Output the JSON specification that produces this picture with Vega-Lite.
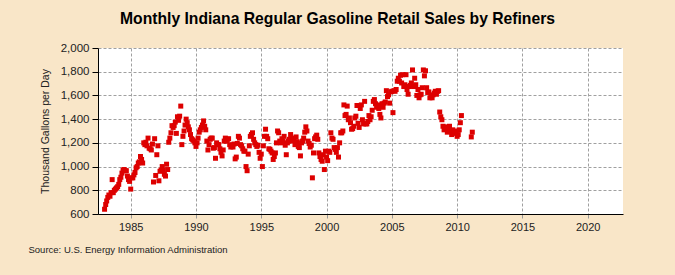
{
  "$schema": "https://vega.github.io/schema/vega-lite/v6.json",
  "width": 525,
  "height": 166,
  "autosize": {"type": "none"},
  "padding": {"left": 98, "top": 48, "right": 52, "bottom": 61},
  "background": "#F9E6C8",
  "config": {
    "view": {"stroke": null, "fill": "#FFFFFF"},
    "font": "Liberation Sans"
  },
  "title": {
    "text": "Monthly Indiana Regular Gasoline Retail Sales by Refiners",
    "fontSize": 15.7,
    "fontWeight": "bold",
    "color": "#000000",
    "anchor": "middle",
    "dx": -23,
    "offset": 14
  },
  "data": {
    "format": {"parse": {"d": "utc:'%Y-%m'"}},
    "values": [
      {"d":"1983-01","v":640},{"d":"1983-02","v":680},{"d":"1983-03","v":710},{"d":"1983-04","v":740},{"d":"1983-05","v":760},{"d":"1983-06","v":750},{"d":"1983-07","v":780},{"d":"1983-08","v":890},{"d":"1983-09","v":780},{"d":"1983-10","v":800},{"d":"1983-11","v":810},{"d":"1983-12","v":820},
      {"d":"1984-01","v":830},{"d":"1984-02","v":850},{"d":"1984-03","v":890},{"d":"1984-04","v":910},{"d":"1984-05","v":945},{"d":"1984-06","v":970},{"d":"1984-07","v":975},{"d":"1984-08","v":965},{"d":"1984-09","v":965},{"d":"1984-10","v":920},{"d":"1984-11","v":890},{"d":"1984-12","v":875},
      {"d":"1985-01","v":810},{"d":"1985-02","v":905},{"d":"1985-03","v":905},{"d":"1985-04","v":930},{"d":"1985-05","v":950},{"d":"1985-06","v":990},{"d":"1985-07","v":1000},{"d":"1985-08","v":1030},{"d":"1985-09","v":1040},{"d":"1985-10","v":1085},{"d":"1985-11","v":1060},{"d":"1985-12","v":1030},
      {"d":"1986-01","v":1200},{"d":"1986-02","v":1185},{"d":"1986-03","v":1205},{"d":"1986-04","v":1175},{"d":"1986-05","v":1240},{"d":"1986-06","v":1155},{"d":"1986-07","v":1150},{"d":"1986-08","v":1140},{"d":"1986-09","v":1190},{"d":"1986-10","v":870},{"d":"1986-11","v":1235},{"d":"1986-12","v":925},
      {"d":"1987-01","v":1100},{"d":"1987-02","v":1175},{"d":"1987-03","v":880},{"d":"1987-04","v":960},{"d":"1987-05","v":970},{"d":"1987-06","v":1000},{"d":"1987-07","v":970},{"d":"1987-08","v":935},{"d":"1987-09","v":920},{"d":"1987-10","v":1020},{"d":"1987-11","v":975},{"d":"1987-12","v":1205},
      {"d":"1988-01","v":1240},{"d":"1988-02","v":1285},{"d":"1988-03","v":1345},{"d":"1988-04","v":1330},{"d":"1988-05","v":1345},{"d":"1988-06","v":1375},{"d":"1988-07","v":1280},{"d":"1988-08","v":1420},{"d":"1988-09","v":1390},{"d":"1988-10","v":1425},{"d":"1988-11","v":1510},{"d":"1988-12","v":1185},
      {"d":"1989-01","v":1255},{"d":"1989-02","v":1300},{"d":"1989-03","v":1350},{"d":"1989-04","v":1400},{"d":"1989-05","v":1370},{"d":"1989-06","v":1335},{"d":"1989-07","v":1310},{"d":"1989-08","v":1270},{"d":"1989-09","v":1235},{"d":"1989-10","v":1225},{"d":"1989-11","v":1215},{"d":"1989-12","v":1200},
      {"d":"1990-01","v":1170},{"d":"1990-02","v":1200},{"d":"1990-03","v":1240},{"d":"1990-04","v":1290},{"d":"1990-05","v":1310},{"d":"1990-06","v":1330},{"d":"1990-07","v":1350},{"d":"1990-08","v":1385},{"d":"1990-09","v":1340},{"d":"1990-10","v":1310},{"d":"1990-11","v":1215},{"d":"1990-12","v":1140},
      {"d":"1991-01","v":1185},{"d":"1991-02","v":1230},{"d":"1991-03","v":1240},{"d":"1991-04","v":1240},{"d":"1991-05","v":1155},{"d":"1991-06","v":1160},{"d":"1991-07","v":1070},{"d":"1991-08","v":1200},{"d":"1991-09","v":1185},{"d":"1991-10","v":1185},{"d":"1991-11","v":1150},{"d":"1991-12","v":1120},
      {"d":"1992-01","v":1090},{"d":"1992-02","v":1140},{"d":"1992-03","v":1215},{"d":"1992-04","v":1240},{"d":"1992-05","v":1215},{"d":"1992-06","v":1230},{"d":"1992-07","v":1235},{"d":"1992-08","v":1185},{"d":"1992-09","v":1165},{"d":"1992-10","v":1170},{"d":"1992-11","v":1165},{"d":"1992-12","v":1190},
      {"d":"1993-01","v":1065},{"d":"1993-02","v":1080},{"d":"1993-03","v":1195},{"d":"1993-04","v":1255},{"d":"1993-05","v":1240},{"d":"1993-06","v":1185},{"d":"1993-07","v":1175},{"d":"1993-08","v":1150},{"d":"1993-09","v":1130},{"d":"1993-10","v":1130},{"d":"1993-11","v":1000},{"d":"1993-12","v":965},
      {"d":"1994-01","v":1105},{"d":"1994-02","v":1175},{"d":"1994-03","v":1255},{"d":"1994-04","v":1270},{"d":"1994-05","v":1285},{"d":"1994-06","v":1230},{"d":"1994-07","v":1200},{"d":"1994-08","v":1185},{"d":"1994-09","v":1170},{"d":"1994-10","v":1180},{"d":"1994-11","v":1120},{"d":"1994-12","v":1070},
      {"d":"1995-01","v":1105},{"d":"1995-02","v":1000},{"d":"1995-03","v":1175},{"d":"1995-04","v":1255},{"d":"1995-05","v":1315},{"d":"1995-06","v":1255},{"d":"1995-07","v":1235},{"d":"1995-08","v":1150},{"d":"1995-09","v":1145},{"d":"1995-10","v":1130},{"d":"1995-11","v":1115},{"d":"1995-12","v":1060},
      {"d":"1996-01","v":1085},{"d":"1996-02","v":1115},{"d":"1996-03","v":1200},{"d":"1996-04","v":1300},{"d":"1996-05","v":1285},{"d":"1996-06","v":1215},{"d":"1996-07","v":1200},{"d":"1996-08","v":1235},{"d":"1996-09","v":1215},{"d":"1996-10","v":1255},{"d":"1996-11","v":1180},{"d":"1996-12","v":1100},
      {"d":"1997-01","v":1200},{"d":"1997-02","v":1215},{"d":"1997-03","v":1230},{"d":"1997-04","v":1270},{"d":"1997-05","v":1240},{"d":"1997-06","v":1215},{"d":"1997-07","v":1230},{"d":"1997-08","v":1185},{"d":"1997-09","v":1250},{"d":"1997-10","v":1210},{"d":"1997-11","v":1170},{"d":"1997-12","v":1160},
      {"d":"1998-01","v":1090},{"d":"1998-02","v":1200},{"d":"1998-03","v":1215},{"d":"1998-04","v":1240},{"d":"1998-05","v":1290},{"d":"1998-06","v":1335},{"d":"1998-07","v":1300},{"d":"1998-08","v":1215},{"d":"1998-09","v":1195},{"d":"1998-10","v":1165},{"d":"1998-11","v":1180},{"d":"1998-12","v":905},
      {"d":"1999-01","v":1115},{"d":"1999-02","v":1235},{"d":"1999-03","v":1250},{"d":"1999-04","v":1265},{"d":"1999-05","v":1230},{"d":"1999-06","v":1115},{"d":"1999-07","v":1085},{"d":"1999-08","v":1060},{"d":"1999-09","v":1045},{"d":"1999-10","v":1100},{"d":"1999-11","v":975},{"d":"1999-12","v":1130},
      {"d":"2000-01","v":1080},{"d":"2000-02","v":1050},{"d":"2000-03","v":1130},{"d":"2000-04","v":1120},{"d":"2000-05","v":1285},{"d":"2000-06","v":1240},{"d":"2000-07","v":1230},{"d":"2000-08","v":1160},{"d":"2000-09","v":1145},{"d":"2000-10","v":1120},{"d":"2000-11","v":1160},{"d":"2000-12","v":1080},
      {"d":"2001-01","v":1200},{"d":"2001-02","v":1285},{"d":"2001-03","v":1285},{"d":"2001-04","v":1300},{"d":"2001-05","v":1520},{"d":"2001-06","v":1430},{"d":"2001-07","v":1440},{"d":"2001-08","v":1510},{"d":"2001-09","v":1395},{"d":"2001-10","v":1410},{"d":"2001-11","v":1370},{"d":"2001-12","v":1315},
      {"d":"2002-01","v":1320},{"d":"2002-02","v":1340},{"d":"2002-03","v":1410},{"d":"2002-04","v":1425},{"d":"2002-05","v":1515},{"d":"2002-06","v":1365},{"d":"2002-07","v":1330},{"d":"2002-08","v":1490},{"d":"2002-09","v":1520},{"d":"2002-10","v":1395},{"d":"2002-11","v":1360},{"d":"2002-12","v":1550},
      {"d":"2003-01","v":1360},{"d":"2003-02","v":1360},{"d":"2003-03","v":1380},{"d":"2003-04","v":1430},{"d":"2003-05","v":1395},{"d":"2003-06","v":1420},{"d":"2003-07","v":1475},{"d":"2003-08","v":1550},{"d":"2003-09","v":1565},{"d":"2003-10","v":1530},{"d":"2003-11","v":1500},{"d":"2003-12","v":1520},
      {"d":"2004-01","v":1490},{"d":"2004-02","v":1440},{"d":"2004-03","v":1410},{"d":"2004-04","v":1530},{"d":"2004-05","v":1500},{"d":"2004-06","v":1535},{"d":"2004-07","v":1545},{"d":"2004-08","v":1640},{"d":"2004-09","v":1590},{"d":"2004-10","v":1605},{"d":"2004-11","v":1535},{"d":"2004-12","v":1630},
      {"d":"2005-01","v":1635},{"d":"2005-02","v":1455},{"d":"2005-03","v":1640},{"d":"2005-04","v":1635},{"d":"2005-05","v":1650},{"d":"2005-06","v":1720},{"d":"2005-07","v":1745},{"d":"2005-08","v":1720},{"d":"2005-09","v":1770},{"d":"2005-10","v":1705},{"d":"2005-11","v":1775},{"d":"2005-12","v":1675},
      {"d":"2006-01","v":1690},{"d":"2006-02","v":1775},{"d":"2006-03","v":1650},{"d":"2006-04","v":1610},{"d":"2006-05","v":1675},{"d":"2006-06","v":1685},{"d":"2006-07","v":1705},{"d":"2006-08","v":1815},{"d":"2006-09","v":1675},{"d":"2006-10","v":1745},{"d":"2006-11","v":1690},{"d":"2006-12","v":1600},
      {"d":"2007-01","v":1650},{"d":"2007-02","v":1580},{"d":"2007-03","v":1605},{"d":"2007-04","v":1610},{"d":"2007-05","v":1665},{"d":"2007-06","v":1815},{"d":"2007-07","v":1765},{"d":"2007-08","v":1808},{"d":"2007-09","v":1665},{"d":"2007-10","v":1625},{"d":"2007-11","v":1630},{"d":"2007-12","v":1580},
      {"d":"2008-01","v":1595},{"d":"2008-02","v":1580},{"d":"2008-03","v":1605},{"d":"2008-04","v":1620},{"d":"2008-05","v":1635},{"d":"2008-06","v":1610},{"d":"2008-07","v":1635},{"d":"2008-08","v":1640},{"d":"2008-09","v":1460},{"d":"2008-10","v":1420},{"d":"2008-11","v":1395},{"d":"2008-12","v":1340},
      {"d":"2009-01","v":1310},{"d":"2009-02","v":1330},{"d":"2009-03","v":1335},{"d":"2009-04","v":1290},{"d":"2009-05","v":1310},{"d":"2009-06","v":1340},{"d":"2009-07","v":1300},{"d":"2009-08","v":1270},{"d":"2009-09","v":1310},{"d":"2009-10","v":1290},{"d":"2009-11","v":1280},{"d":"2009-12","v":1300},
      {"d":"2010-01","v":1255},{"d":"2010-02","v":1270},{"d":"2010-03","v":1310},{"d":"2010-04","v":1370},{"d":"2010-05","v":1430},
      {"d":"2011-02","v":1250},{"d":"2011-03","v":1290}
    ]
  },
  "mark": {"type": "square", "size": 25, "color": "#DD0000", "opacity": 1, "filled": true},
  "encoding": {
    "x": {
      "field": "d",
      "type": "temporal",
      "scale": {
        "type": "utc",
        "nice": false,
        "domain": [
          {"year": 1982, "month": 7, "date": 1, "utc": true},
          {"year": 2022, "month": 9, "date": 15, "utc": true}
        ]
      },
      "axis": {
        "values": [
          {"year": 1985, "utc": true}, {"year": 1990, "utc": true}, {"year": 1995, "utc": true},
          {"year": 2000, "utc": true}, {"year": 2005, "utc": true}, {"year": 2010, "utc": true},
          {"year": 2015, "utc": true}, {"year": 2020, "utc": true}
        ],
        "format": "%Y",
        "title": "Source: U.S. Energy Information Administration",
        "titleFontSize": 9.5,
        "titleFontWeight": "normal",
        "titleColor": "#222222",
        "titleAnchor": "start",
        "titleAlign": "left",
        "titleBaseline": "middle",
        "titleX": -70,
        "titleY": 35,
        "labelFontSize": 11,
        "labelColor": "#222222",
        "labelPadding": 3,
        "domainColor": "#000000",
        "domainWidth": 1,
        "tickColor": "#999999",
        "tickSize": 4,
        "grid": true,
        "gridColor": "#A0A0A0",
        "gridDash": [3, 2],
        "gridWidth": 1
      }
    },
    "y": {
      "field": "v",
      "type": "quantitative",
      "scale": {"domain": [600, 2000], "nice": false, "zero": false},
      "axis": {
        "values": [600, 800, 1000, 1200, 1400, 1600, 1800, 2000],
        "format": ",.0f",
        "title": "Thousand Gallons per Day",
        "titleFontSize": 10.5,
        "titleFontWeight": "normal",
        "titleColor": "#222222",
        "titleX": -53,
        "titleY": 83,
        "titleAlign": "center",
        "titleBaseline": "middle",
        "labelFontSize": 11.5,
        "labelColor": "#222222",
        "labelPadding": 3,
        "domainColor": "#000000",
        "domainWidth": 1,
        "tickColor": "#000000",
        "tickSize": 6,
        "grid": true,
        "gridColor": "#A0A0A0",
        "gridDash": [3, 2],
        "gridWidth": 1
      }
    }
  }
}
